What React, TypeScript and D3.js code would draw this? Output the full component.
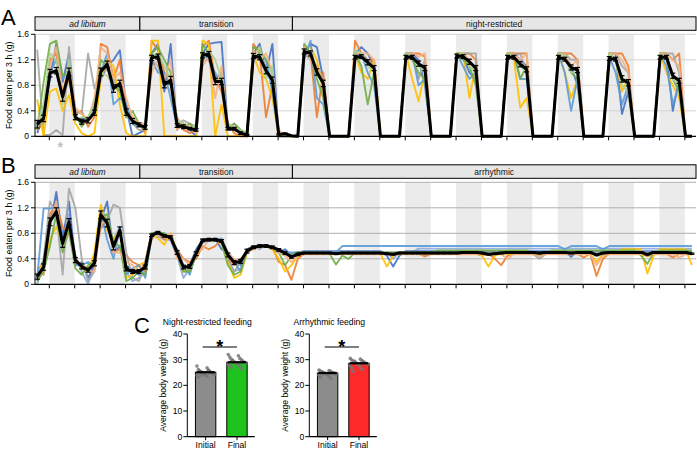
import React from 'react';
import * as d3 from 'd3';

// ---------- DATA ----------
const PHASES_A = ['ad libitum', 'transition', 'night-restricted'];
const PHASES_B = ['ad libitum', 'transition', 'arrhythmic'];
const PHASE_BOUNDS = [-2.25, 14.25, 38.25, 101.75]; // in 3-h bins
const Y_TICKS = [0, 0.4, 0.8, 1.2, 1.6];
const Y_TICK_LABELS = ['0', '0.4', '0.8', '1.2', '1.6'];

const meanA = [
  0.19, 0.28, 0.99, 1.03, 0.62, 1.01, 0.30, 0.23, 0.25, 0.37, 1.01, 1.13, 0.75, 0.83, 0.38, 0.24, 0.18, 0.14,
  1.23, 1.25, 0.81, 0.88, 0.17, 0.15, 0.12, 0.10, 1.27, 1.29, 0.86, 0.86, 0.12, 0.12, 0.05, 0.02, 1.26, 1.24, 1.03, 0.88, 0.03, 0.04,
  0.01, 0, 1.33, 1.30, 1.01, 0.83, 0, 0, 0, 0, 1.24, 1.25, 1.16, 1.07, 0, 0, 0, 0, 1.24, 1.24, 1.14, 1.07, 0, 0, 0, 0,
  1.26, 1.25, 1.17, 1.07, 0, 0, 0, 0, 1.24, 1.24, 1.13, 1.05, 0, 0, 0, 0, 1.24, 1.21, 1.08, 1.04, 0, 0, 0, 0,
  1.22, 1.21, 0.90, 0.84, 0, 0, 0, 0, 1.24, 1.24, 0.95, 0.87, 0, 0,
];
const errA = [
  0.06, 0.05, 0.06, 0.05, 0.07, 0.06, 0.04, 0.04, 0.04, 0.04, 0.06, 0.05, 0.06, 0.05, 0.05, 0.04, 0.03, 0.03,
  0.04, 0.04, 0.05, 0.06, 0.03, 0.03, 0.02, 0.02, 0.04, 0.04, 0.05, 0.05, 0.02, 0.02, 0.02, 0.01, 0.04, 0.04, 0.05, 0.05, 0.01, 0.01,
  0, 0, 0.04, 0.04, 0.05, 0.05, 0, 0, 0, 0, 0.03, 0.03, 0.04, 0.04, 0, 0, 0, 0, 0.03, 0.03, 0.04, 0.04, 0, 0, 0, 0,
  0.03, 0.03, 0.04, 0.04, 0, 0, 0, 0, 0.03, 0.03, 0.04, 0.04, 0, 0, 0, 0, 0.03, 0.03, 0.04, 0.04, 0, 0, 0, 0,
  0.03, 0.03, 0.05, 0.05, 0, 0, 0, 0, 0.03, 0.03, 0.04, 0.04, 0, 0,
];

const aBlue = [
  0.05, 0.35, 0.9, 1.45, 0.85, 1.3, 0.3, 0.2, 0.3, 0.4, 0.9, 1.1, 1.2, 1.35, 0.45, 0.0, 0.05, 0.1,
  1.3, 1.45, 0.7, 1.45, 0.1, 0.2, 0.1, 0.0, 1.3, 1.45, 1.47, 1.48, 0.1, 0.1, 0.05, 0.0, 1.3, 1.45, 1.0, 1.45, 0.0, 0.0,
  0, 0, 1.3, 1.45, 1.4, 0.9, 0, 0, 0, 0, 1.3, 1.4, 1.3, 1.1, 0, 0, 0, 0, 1.3, 1.3, 1.2, 0.8, 0, 0, 0, 0,
  1.3, 1.25, 1.0, 0.9, 0, 0, 0, 0, 1.3, 1.3, 1.2, 1.1, 0, 0, 0, 0, 1.3, 1.3, 1.1, 0.8, 0, 0, 0, 0,
  1.3, 1.3, 0.35, 0.7, 0, 0, 0, 0, 1.3, 1.3, 0.4, 0.9, 0, 0,
];
const aOrange = [
  0.1, 0.2, 1.2, 1.3, 0.6, 0.9, 0.35, 0.4, 0.15, 0.3, 1.45, 1.4, 0.9, 1.2, 0.3, 0.3, 0.2, 0.05,
  1.5, 1.35, 1.0, 0.8, 0.3, 0.1, 0.05, 0.1, 1.4, 1.5, 0.9, 0.7, 0.2, 0.05, 0.0, 0.0, 1.45, 1.3, 0.3, 0.8, 0.0, 0.05,
  0, 0, 1.35, 1.3, 0.3, 1.0, 0, 0, 0, 0, 1.5, 1.3, 1.2, 1.2, 0, 0, 0, 0, 1.3, 1.3, 1.3, 1.25, 0, 0, 0, 0,
  1.3, 1.3, 1.3, 1.2, 0, 0, 0, 0, 1.3, 1.3, 1.3, 1.3, 0, 0, 0, 0, 1.3, 1.3, 1.3, 1.2, 0, 0, 0, 0,
  1.3, 1.3, 1.3, 1.1, 0, 0, 0, 0, 1.3, 1.3, 1.2, 1.3, 0, 0,
];
const aGray = [
  1.36, 0.02, 0.02, 0.1, 0.02, 1.4, 0.4, 0.35, 1.3, 0.75, 1.0, 1.05, 0.9, 0.7, 0.5, 0.2, 0.1, 0.1,
  1.2, 1.1, 0.8, 0.9, 0.2, 0.25, 0.2, 0.15, 1.2, 1.2, 0.9, 1.0, 0.15, 0.2, 0.1, 0.05, 1.2, 1.25, 1.1, 0.9, 0.05, 0.05,
  0, 0, 1.3, 1.2, 1.1, 0.9, 0, 0, 0, 0, 1.3, 1.3, 1.2, 1.1, 0, 0, 0, 0, 1.3, 1.3, 0.9, 1.2, 0, 0, 0, 0,
  1.3, 1.3, 1.3, 1.3, 0, 0, 0, 0, 1.3, 1.25, 1.3, 1.0, 0, 0, 0, 0, 1.3, 1.3, 1.2, 1.2, 0, 0, 0, 0,
  1.3, 1.3, 1.1, 1.0, 0, 0, 0, 0, 1.3, 1.3, 1.3, 1.0, 0, 0,
];
const aYellow = [
  0.58, 0.0, 0.7, 0.75, 0.4, 0.65, 0.2, 0.05, 0.0, 0.05, 0.9, 1.2, 1.1, 0.5, 0.05, 0.0, 0.0, 0.0,
  1.5, 1.5, 0.0, 0.0, 0.0, 0.0, 0.0, 0.0, 1.5, 1.45, 0.0, 0.5, 0.0, 0.0, 0.0, 0.0, 1.3, 1.0, 0.9, 0.6, 0.0, 0.0,
  0, 0, 1.4, 1.4, 1.2, 0.7, 0, 0, 0, 0, 1.3, 1.0, 0.9, 1.2, 0, 0, 0, 0, 1.3, 0.9, 0.55, 1.0, 0, 0, 0, 0,
  1.3, 1.3, 0.6, 1.1, 0, 0, 0, 0, 1.3, 1.2, 0.45, 0.6, 0, 0, 0, 0, 1.3, 1.0, 0.6, 0.9, 0, 0, 0, 0,
  1.3, 1.2, 0.7, 0.9, 0, 0, 0, 0, 1.3, 1.0, 0.8, 0.6, 0, 0,
];
const aLightBlue = [
  0.2, 0.4, 1.0, 1.2, 0.9, 1.05, 0.3, 0.25, 0.3, 0.4, 1.0, 1.3, 0.5, 0.6, 0.5, 0.2, 0.15, 0.15,
  1.2, 1.0, 1.0, 0.6, 0.15, 0.2, 0.15, 0.1, 1.3, 1.2, 1.0, 0.8, 0.15, 0.1, 0.05, 0.0, 1.2, 1.3, 1.2, 0.7, 0.0, 0.0,
  0, 0, 1.2, 1.5, 0.6, 0.5, 0, 0, 0, 0, 1.25, 1.3, 1.0, 0.8, 0, 0, 0, 0, 1.3, 1.3, 0.8, 0.9, 0, 0, 0, 0,
  1.3, 1.1, 0.9, 1.0, 0, 0, 0, 0, 1.2, 1.3, 0.9, 0.9, 0, 0, 0, 0, 1.3, 1.0, 0.4, 0.9, 0, 0, 0, 0,
  1.25, 1.0, 0.5, 0.8, 0, 0, 0, 0, 1.3, 1.1, 0.5, 0.8, 0, 0,
];
const aGreen = [
  0.1, 0.85, 1.45, 1.5, 0.95, 1.0, 0.35, 0.15, 0.3, 0.5, 1.2, 1.1, 0.8, 0.7, 0.3, 0.4, 0.2, 0.1,
  1.3, 1.4, 1.2, 1.0, 0.2, 0.15, 0.2, 0.1, 1.45, 1.3, 0.9, 0.9, 0.1, 0.2, 0.1, 0.0, 1.4, 1.35, 1.2, 1.0, 0.05, 0.0,
  0, 0, 1.45, 1.3, 0.9, 0.6, 0, 0, 0, 0, 1.3, 1.1, 0.5, 1.0, 0, 0, 0, 0, 1.3, 1.2, 1.0, 0.9, 0, 0, 0, 0,
  1.3, 1.2, 1.1, 0.8, 0, 0, 0, 0, 1.3, 1.3, 0.9, 1.1, 0, 0, 0, 0, 1.3, 1.3, 1.0, 0.9, 0, 0, 0, 0,
  1.3, 1.2, 0.9, 0.8, 0, 0, 0, 0, 1.3, 1.3, 0.9, 0.7, 0, 0,
];
const aLightOrange = [
  0.3, 0.3, 1.1, 1.4, 0.7, 1.1, 0.45, 0.35, 0.25, 0.6, 1.4, 1.3, 0.9, 1.0, 0.6, 0.3, 0.2, 0.2,
  1.0, 1.2, 0.9, 1.2, 0.1, 0.2, 0.15, 0.05, 1.1, 1.25, 0.6, 1.1, 0.1, 0.15, 0.05, 0.0, 1.35, 1.2, 1.3, 1.0, 0.1, 0.0,
  0, 0, 1.4, 1.2, 1.1, 0.8, 0, 0, 0, 0, 1.3, 1.3, 1.3, 1.2, 0, 0, 0, 0, 1.3, 1.3, 1.25, 1.3, 0, 0, 0, 0,
  1.3, 1.3, 1.2, 1.0, 0, 0, 0, 0, 1.3, 1.3, 1.2, 1.3, 0, 0, 0, 0, 1.3, 1.3, 1.1, 1.2, 0, 0, 0, 0,
  1.3, 1.3, 1.2, 1.0, 0, 0, 0, 0, 1.3, 1.3, 1.2, 1.1, 0, 0,
];
const aLightGreen = [
  0.15, 0.5, 1.3, 1.2, 0.5, 1.2, 0.25, 0.3, 0.3, 0.5, 1.0, 0.95, 0.8, 0.8, 0.35, 0.25, 0.15, 0.15,
  1.25, 1.3, 1.1, 0.9, 0.25, 0.2, 0.1, 0.2, 1.25, 1.35, 1.2, 0.9, 0.2, 0.15, 0.1, 0.05, 1.2, 1.4, 0.9, 1.1, 0.0, 0.05,
  0, 0, 1.3, 1.35, 1.0, 0.8, 0, 0, 0, 0, 1.35, 1.3, 1.1, 1.0, 0, 0, 0, 0, 1.3, 1.25, 1.1, 1.0, 0, 0, 0, 0,
  1.3, 1.3, 1.1, 1.0, 0, 0, 0, 0, 1.3, 1.25, 1.1, 1.0, 0, 0, 0, 0, 1.3, 1.25, 1.0, 1.0, 0, 0, 0, 0,
  1.3, 1.2, 0.8, 0.7, 0, 0, 0, 0, 1.3, 1.2, 0.9, 0.8, 0, 0,
];

const meanB = [
  0.12, 0.27, 0.98, 1.14, 0.64, 0.98, 0.38, 0.28, 0.22, 0.33, 1.09, 0.96, 0.59, 0.85, 0.24, 0.20, 0.20, 0.27,
  0.77, 0.81, 0.76, 0.74, 0.50, 0.27, 0.28, 0.48, 0.69, 0.70, 0.70, 0.68, 0.46, 0.34, 0.36, 0.52, 0.58, 0.60, 0.60, 0.58, 0.54, 0.49,
  0.43, 0.47, 0.49, 0.49, 0.49, 0.49, 0.49, 0.48, 0.49, 0.49, 0.49, 0.49, 0.49, 0.49, 0.49, 0.48,
  0.47, 0.49, 0.49, 0.49, 0.49, 0.49, 0.49, 0.49, 0.49, 0.49, 0.49, 0.50, 0.50, 0.50, 0.49, 0.47,
  0.48, 0.49, 0.50, 0.50, 0.50, 0.50, 0.50, 0.49, 0.50, 0.50, 0.50, 0.50, 0.49, 0.50, 0.50, 0.50,
  0.46, 0.49, 0.50, 0.50, 0.50, 0.50, 0.50, 0.50, 0.47, 0.50, 0.50, 0.50, 0.50, 0.50, 0.50, 0.48,
];
const errB = [
  0.04, 0.05, 0.06, 0.06, 0.06, 0.05, 0.04, 0.04, 0.03, 0.04, 0.06, 0.06, 0.05, 0.05, 0.03, 0.03, 0.03, 0.03,
  0.02, 0.02, 0.02, 0.02, 0.03, 0.03, 0.03, 0.03, 0.02, 0.02, 0.02, 0.02, 0.03, 0.03, 0.03, 0.03, 0.02, 0.02, 0.02, 0.02, 0.02, 0.02,
  0.02, 0.02, 0.01, 0.01, 0.01, 0.01, 0.01, 0.01, 0.01, 0.01, 0.01, 0.01, 0.01, 0.01, 0.01, 0.01,
  0.01, 0.01, 0.01, 0.01, 0.01, 0.01, 0.01, 0.01, 0.01, 0.01, 0.01, 0.01, 0.01, 0.01, 0.01, 0.01,
  0.01, 0.01, 0.01, 0.01, 0.01, 0.01, 0.01, 0.01, 0.01, 0.01, 0.01, 0.01, 0.01, 0.01, 0.01, 0.01,
  0.01, 0.01, 0.01, 0.01, 0.01, 0.01, 0.01, 0.01, 0.01, 0.01, 0.01, 0.01, 0.01, 0.01, 0.01, 0.01,
];

const bBlue = [
  0.05, 0.3, 0.9, 1.45, 0.7, 1.3, 0.3, 0.35, 0.1, 0.3, 1.0, 1.3, 0.5, 0.6, 0.3, 0.2, 0.15, 0.35,
  0.8, 0.82, 0.75, 0.7, 0.45, 0.25, 0.3, 0.55, 0.7, 0.7, 0.72, 0.55, 0.5, 0.35, 0.3, 0.55, 0.58, 0.6, 0.6, 0.55, 0.5, 0.55,
  0.45, 0.5, 0.52, 0.52, 0.52, 0.52, 0.52, 0.52, 0.52, 0.52, 0.52, 0.52, 0.52, 0.52, 0.52, 0.45,
  0.28, 0.45, 0.52, 0.52, 0.52, 0.52, 0.52, 0.52, 0.52, 0.52, 0.52, 0.52, 0.52, 0.52, 0.52, 0.52,
  0.52, 0.52, 0.52, 0.52, 0.52, 0.52, 0.52, 0.52, 0.52, 0.52, 0.52, 0.52, 0.43, 0.52, 0.52, 0.52,
  0.52, 0.52, 0.52, 0.52, 0.52, 0.52, 0.52, 0.52, 0.52, 0.52, 0.52, 0.52, 0.52, 0.52, 0.52, 0.52,
];
const bOrange = [
  0.2, 0.15, 1.1, 1.25, 0.9, 0.8, 0.35, 0.3, 0.25, 0.4, 0.9, 1.0, 0.5, 0.55, 0.45, 0.35, 0.3, 0.2,
  0.75, 0.8, 0.7, 0.72, 0.55, 0.4, 0.35, 0.4, 0.6, 0.55, 0.6, 0.7, 0.4, 0.3, 0.4, 0.5, 0.55, 0.6, 0.6, 0.58, 0.35, 0.3,
  0.07, 0.4, 0.48, 0.48, 0.48, 0.48, 0.48, 0.48, 0.48, 0.48, 0.48, 0.48, 0.48, 0.48, 0.48, 0.48,
  0.48, 0.48, 0.48, 0.48, 0.48, 0.44, 0.48, 0.48, 0.48, 0.48, 0.48, 0.48, 0.48, 0.48, 0.45, 0.48,
  0.4, 0.3, 0.45, 0.48, 0.48, 0.48, 0.48, 0.48, 0.48, 0.48, 0.48, 0.48, 0.48, 0.48, 0.42, 0.48,
  0.13, 0.4, 0.48, 0.48, 0.48, 0.48, 0.48, 0.48, 0.44, 0.48, 0.48, 0.48, 0.42, 0.48, 0.48, 0.48,
];
const bGray = [
  0.15, 0.4, 1.3, 1.1, 0.15, 1.5, 1.2, 0.4, 0.05, 0.2, 1.2, 1.0, 1.25, 1.2, 0.5, 0.1, 0.05, 0.3,
  0.78, 0.8, 0.78, 0.75, 0.5, 0.2, 0.2, 0.5, 0.7, 0.7, 0.7, 0.68, 0.4, 0.2, 0.35, 0.55, 0.6, 0.6, 0.6, 0.6, 0.55, 0.5,
  0.48, 0.5, 0.5, 0.5, 0.5, 0.5, 0.5, 0.5, 0.5, 0.5, 0.5, 0.5, 0.5, 0.5, 0.5, 0.5,
  0.5, 0.5, 0.5, 0.5, 0.5, 0.5, 0.5, 0.5, 0.5, 0.5, 0.5, 0.5, 0.5, 0.5, 0.5, 0.5,
  0.5, 0.5, 0.5, 0.5, 0.5, 0.5, 0.47, 0.4, 0.47, 0.5, 0.5, 0.5, 0.5, 0.5, 0.5, 0.5,
  0.5, 0.5, 0.5, 0.5, 0.5, 0.5, 0.5, 0.5, 0.5, 0.5, 0.5, 0.5, 0.5, 0.5, 0.5, 0.5,
];
const bYellow = [
  0.25, 0.3, 0.7, 0.9, 0.65, 0.9, 0.4, 0.25, 0.2, 0.5, 1.25, 0.85, 0.7, 0.85, 0.1, 0.15, 0.3, 0.35,
  0.8, 0.72, 0.62, 0.8, 0.5, 0.2, 0.25, 0.45, 0.7, 0.7, 0.7, 0.65, 0.35, 0.1, 0.15, 0.5, 0.6, 0.58, 0.6, 0.55, 0.4, 0.2,
  0.3, 0.45, 0.48, 0.48, 0.48, 0.48, 0.48, 0.48, 0.48, 0.48, 0.48, 0.48, 0.48, 0.48, 0.48, 0.28,
  0.45, 0.48, 0.48, 0.48, 0.48, 0.48, 0.48, 0.48, 0.48, 0.48, 0.48, 0.48, 0.48, 0.48, 0.45, 0.28,
  0.45, 0.48, 0.48, 0.48, 0.48, 0.48, 0.48, 0.48, 0.48, 0.48, 0.48, 0.48, 0.48, 0.48, 0.48, 0.48,
  0.35, 0.48, 0.48, 0.48, 0.55, 0.55, 0.55, 0.55, 0.17, 0.45, 0.55, 0.55, 0.55, 0.55, 0.55, 0.3,
];
const bLightBlue = [
  0.1, 1.19, 1.19, 1.2, 0.7, 1.0, 0.3, 0.3, 0.35, 0.25, 1.15, 0.7, 0.4, 0.9, 0.15, 0.25, 0.3, 0.1,
  0.75, 0.8, 0.8, 0.7, 0.55, 0.3, 0.15, 0.5, 0.65, 0.7, 0.7, 0.72, 0.5, 0.35, 0.2, 0.55, 0.58, 0.62, 0.6, 0.6, 0.55, 0.5,
  0.5, 0.5, 0.5, 0.5, 0.5, 0.5, 0.5, 0.5, 0.6, 0.6, 0.6, 0.6, 0.6, 0.6, 0.6, 0.6,
  0.6, 0.6, 0.6, 0.6, 0.6, 0.6, 0.6, 0.6, 0.6, 0.6, 0.6, 0.6, 0.6, 0.6, 0.6, 0.6,
  0.6, 0.6, 0.6, 0.6, 0.6, 0.6, 0.6, 0.6, 0.6, 0.6, 0.6, 0.55, 0.6, 0.6, 0.6, 0.6,
  0.6, 0.55, 0.6, 0.6, 0.6, 0.6, 0.6, 0.6, 0.6, 0.6, 0.6, 0.6, 0.6, 0.6, 0.6, 0.6,
];
const bGreen = [
  0.05, 0.2, 0.6, 1.1, 0.5, 0.85, 0.25, 0.15, 0.3, 0.35, 1.05, 1.1, 0.65, 0.6, 0.05, 0.1, 0.2, 0.15,
  0.8, 0.8, 0.8, 0.75, 0.5, 0.2, 0.2, 0.45, 0.7, 0.72, 0.7, 0.65, 0.3, 0.15, 0.2, 0.5, 0.6, 0.6, 0.6, 0.58, 0.5, 0.3,
  0.45, 0.5, 0.5, 0.5, 0.5, 0.5, 0.48, 0.31, 0.45, 0.4, 0.5, 0.5, 0.5, 0.5, 0.5, 0.5,
  0.5, 0.5, 0.5, 0.5, 0.5, 0.5, 0.5, 0.53, 0.53, 0.53, 0.53, 0.53, 0.53, 0.53, 0.53, 0.53,
  0.53, 0.53, 0.53, 0.53, 0.53, 0.53, 0.5, 0.45, 0.5, 0.53, 0.53, 0.53, 0.53, 0.53, 0.53, 0.53,
  0.53, 0.53, 0.53, 0.53, 0.53, 0.53, 0.53, 0.45, 0.32, 0.5, 0.53, 0.53, 0.53, 0.53, 0.53, 0.53,
];
const bLightOrange = [
  0.1, 0.25, 0.95, 1.3, 0.6, 0.95, 0.4, 0.3, 0.2, 0.2, 0.95, 1.0, 0.5, 0.5, 0.35, 0.3, 0.2, 0.35,
  0.7, 0.8, 0.75, 0.8, 0.4, 0.4, 0.3, 0.5, 0.55, 0.7, 0.7, 0.7, 0.5, 0.4, 0.35, 0.5, 0.55, 0.6, 0.6, 0.6, 0.5, 0.45,
  0.35, 0.45, 0.47, 0.47, 0.47, 0.47, 0.47, 0.47, 0.47, 0.47, 0.47, 0.47, 0.47, 0.47, 0.47, 0.47,
  0.47, 0.47, 0.47, 0.47, 0.47, 0.47, 0.47, 0.47, 0.47, 0.47, 0.47, 0.47, 0.47, 0.47, 0.47, 0.47,
  0.47, 0.47, 0.4, 0.47, 0.47, 0.47, 0.47, 0.44, 0.47, 0.47, 0.47, 0.47, 0.47, 0.47, 0.47, 0.47,
  0.3, 0.45, 0.47, 0.47, 0.47, 0.47, 0.47, 0.47, 0.47, 0.47, 0.47, 0.47, 0.47, 0.42, 0.47, 0.47,
];
const bLightBlue2 = [
  0.0, 0.35, 1.0, 1.35, 0.8, 1.1, 0.45, 0.2, 0.0, 0.3, 0.9, 0.9, 0.7, 0.9, 0.2, 0.05, 0.1, 0.2,
  0.8, 0.75, 0.7, 0.7, 0.45, 0.1, 0.25, 0.5, 0.7, 0.68, 0.7, 0.7, 0.4, 0.2, 0.25, 0.55, 0.6, 0.55, 0.62, 0.58, 0.5, 0.45,
  0.48, 0.5, 0.5, 0.5, 0.5, 0.5, 0.5, 0.5, 0.5, 0.5, 0.5, 0.5, 0.5, 0.5, 0.5, 0.5,
  0.4, 0.5, 0.5, 0.5, 0.56, 0.56, 0.56, 0.56, 0.56, 0.56, 0.56, 0.56, 0.56, 0.56, 0.56, 0.56,
  0.56, 0.56, 0.56, 0.56, 0.56, 0.56, 0.56, 0.56, 0.56, 0.56, 0.56, 0.56, 0.56, 0.56, 0.56, 0.56,
  0.56, 0.56, 0.56, 0.56, 0.56, 0.56, 0.56, 0.56, 0.56, 0.56, 0.56, 0.56, 0.56, 0.56, 0.56, 0.56,
];

const SERIES_COLORS = ['#4472c4', '#ed7d31', '#a5a5a5', '#ffc000', '#5b9bd5', '#70ad47', '#f4b183', '#a9d18e'];
const seriesA = [aBlue, aOrange, aGray, aYellow, aLightBlue, aGreen, aLightOrange, aLightGreen];
const seriesB = [bLightBlue2, bBlue, bOrange, bGray, bYellow, bLightBlue, bGreen, bLightOrange];
const seriesBColors = ['#8faadc', '#4472c4', '#ed7d31', '#a5a5a5', '#ffc000', '#5b9bd5', '#70ad47', '#f4b183'];

// Panel C
const BAR_CATS = ['Initial', 'Final'];
const nrMeans = [25.1, 29.0];
const nrSem = [0.3, 0.3];
const arMeans = [24.8, 28.6];
const arSem = [0.25, 0.25];
const nrInitial = [27.5, 26.8, 26.2, 25.9, 25.6, 25.4, 25.3, 25.0, 24.8, 24.6, 24.5, 24.2, 24.0, 23.8, 23.5, 23.2, 26.0, 25.5, 24.9, 23.9];
const nrFinal = [32.0, 31.5, 31.0, 30.5, 30.2, 30.0, 29.8, 29.5, 29.2, 29.0, 28.8, 28.6, 28.4, 28.2, 28.0, 27.8, 27.4, 26.9, 26.4, 29.6];
const arInitial = [26.0, 25.8, 25.6, 25.5, 25.3, 25.1, 25.0, 24.9, 24.8, 24.7, 24.5, 24.3, 24.1, 23.9, 23.5, 23.2, 22.8, 25.2, 24.6, 24.4];
const arFinal = [30.5, 30.2, 29.9, 29.7, 29.5, 29.3, 29.1, 28.9, 28.7, 28.5, 28.3, 28.1, 27.9, 27.6, 27.2, 26.8, 26.2, 25.5, 28.8, 29.4];
const C_TICKS = [0, 10, 20, 30, 40];

// ---------- LAYOUT ----------
const FONT = 'Liberation Sans, Arial, Helvetica, sans-serif';
const X0 = 35;
const X1 = 696;
const binX = d3.scaleLinear().domain([PHASE_BOUNDS[0], PHASE_BOUNDS[3]]).range([X0, X1]);
const pointBin = (i: number) => i - 2 + 0.1;
const tickBins = d3.range(0, 101, 4);
const darkStarts = d3.range(0, 100, 8);

function TimePanel(props: {
  top: number; letter: string; phases: string[]; mean: number[]; err: number[];
  series: number[][]; colors: string[]; gridColor: string; star?: boolean;
}) {
  const { top, letter, phases, mean, err, series, colors, gridColor, star } = props;
  const bottom = top + 102;
  const y = d3.scaleLinear().domain([0, 1.6]).range([bottom, top]);
  const line = d3.line<number>().x((_, i) => binX(pointBin(i))).y((d) => y(d));
  const hTop = top - 17.5;
  const hH = 13.5;
  return (
    <g>
      <text x={1} y={top - 9} fontFamily={FONT} fontSize={22}>{letter}</text>
      {phases.map((p, k) => (
        <g key={p}>
          <rect x={binX(PHASE_BOUNDS[k])} y={hTop} width={binX(PHASE_BOUNDS[k + 1]) - binX(PHASE_BOUNDS[k])} height={hH}
            fill="#e6e6e6" stroke="#000" strokeWidth={1} />
          <text x={(binX(PHASE_BOUNDS[k]) + binX(PHASE_BOUNDS[k + 1])) / 2} y={hTop + hH / 2 + 3} textAnchor="middle"
            fontFamily={FONT} fontSize={8.5} fontStyle={k === 0 ? 'italic' : 'normal'} fill="#111">{p}</text>
        </g>
      ))}
      {darkStarts.map((s) => (
        <rect key={s} x={binX(s)} y={top} width={binX(s + 4) - binX(s)} height={bottom - top} fill="#ebebeb" />
      ))}
      {Y_TICKS.filter((t) => t > 0).map((t) => (
        <line key={t} x1={X0} x2={X1} y1={y(t)} y2={y(t)} stroke={gridColor} strokeWidth={1} />
      ))}
      {series.map((s, k) => (
        <path key={k} d={line(s) || ''} fill="none" stroke={colors[k]} strokeWidth={1.9} strokeOpacity={0.9} strokeLinejoin="round" />
      ))}
      <path d={line(mean) || ''} fill="none" stroke="#000" strokeWidth={3} strokeLinejoin="round" />
      {mean.map((m, i) => err[i] > 0 ? (
        <g key={i} stroke="#000" strokeWidth={1.2}>
          <line x1={binX(pointBin(i))} x2={binX(pointBin(i))} y1={y(m - err[i])} y2={y(m + err[i])} />
          <line x1={binX(pointBin(i)) - 2.5} x2={binX(pointBin(i)) + 2.5} y1={y(m - err[i])} y2={y(m - err[i])} />
          <line x1={binX(pointBin(i)) - 2.5} x2={binX(pointBin(i)) + 2.5} y1={y(m + err[i])} y2={y(m + err[i])} />
        </g>
      ) : null)}
      <line x1={X0} x2={X0} y1={top} y2={bottom} stroke="#000" strokeWidth={1} />
      <line x1={X0} x2={X1} y1={bottom} y2={bottom} stroke="#000" strokeWidth={1.2} />
      {tickBins.map((b) => (
        <line key={b} x1={binX(b)} x2={binX(b)} y1={bottom} y2={bottom + 4} stroke="#000" strokeWidth={1} />
      ))}
      {Y_TICKS.map((t, k) => (
        <g key={t}>
          <line x1={X0 - 4} x2={X0} y1={y(t)} y2={y(t)} stroke="#000" strokeWidth={1} />
          <text x={X0 - 6} y={y(t) + 3} textAnchor="end" fontFamily={FONT} fontSize={8.5}>{Y_TICK_LABELS[k]}</text>
        </g>
      ))}
      <text transform={`translate(12,${(top + bottom) / 2}) rotate(-90)`} textAnchor="middle" fontFamily={FONT} fontSize={8.8}>
        Food eaten per 3 h (g)
      </text>
      {star ? (
        <text x={binX(pointBin(3)) + 4} y={bottom + 15.5} textAnchor="middle" fontFamily={FONT} fontSize={14} fontWeight="bold" fill="#c0c0c0">*</text>
      ) : null}
    </g>
  );
}

function BarPanel(props: {
  axisX: number; title: string; means: number[]; sem: number[]; dots: number[][]; fill: string;
}) {
  const { axisX, title, means, sem, dots, fill } = props;
  const y = d3.scaleLinear().domain([0, 40]).range([436.7, 334]);
  const x = d3.scaleBand().domain(BAR_CATS).range([axisX + 5, axisX + 63]).paddingInner(0.35).paddingOuter(0.1);
  const bw = x.bandwidth();
  const fills = ['#8c8c8c', fill];
  const c0 = (x('Initial') as number) + bw / 2;
  const c1 = (x('Final') as number) + bw / 2;
  return (
    <g fontFamily={FONT}>
      <text x={axisX + 20} y={325} textAnchor="middle" fontSize={8.6}>{title}</text>
      <text transform={`translate(${axisX - 21},${y(20)}) rotate(-90)`} textAnchor="middle" fontSize={8.6}>Average body weight (g)</text>
      {BAR_CATS.map((c, k) => (
        <g key={c}>
          <rect x={x(c)} y={y(means[k])} width={bw} height={y(0) - y(means[k])} fill={fills[k]} stroke="#000" strokeWidth={1} />
          {dots[k].map((v, i) => (
            <circle key={i} cx={(x(c) as number) + bw / 2 + (((i * 7) % 13) - 6) * 1.45} cy={y(v)} r={1.8}
              fill="#777" fillOpacity={0.85} />
          ))}
          <line x1={(x(c) as number) + 1} x2={(x(c) as number) + bw - 1} y1={y(means[k])} y2={y(means[k])} stroke="#000" strokeWidth={2.2} />
          <line x1={(x(c) as number) + bw / 2} x2={(x(c) as number) + bw / 2} y1={y(means[k] - sem[k])} y2={y(means[k] + sem[k])} stroke="#000" strokeWidth={1.5} />
          <line x1={(x(c) as number) + bw / 2} x2={(x(c) as number) + bw / 2} y1={y(0)} y2={y(0) + 3.5} stroke="#000" strokeWidth={1} />
          <text x={(x(c) as number) + bw / 2} y={448} textAnchor="middle" fontSize={8.6}>{c}</text>
        </g>
      ))}
      <line x1={axisX} x2={axisX} y1={y(40)} y2={y(0)} stroke="#000" strokeWidth={1} />
      <line x1={axisX} x2={axisX + 67.5} y1={y(0)} y2={y(0)} stroke="#000" strokeWidth={1.2} />
      {C_TICKS.map((t) => (
        <g key={t}>
          <line x1={axisX - 4} x2={axisX} y1={y(t)} y2={y(t)} stroke="#000" strokeWidth={1} />
          <text x={axisX - 5} y={y(t) + 3} textAnchor="end" fontSize={8.6}>{t}</text>
        </g>
      ))}
      <line x1={c0 - 3} x2={c1} y1={347} y2={347} stroke="#000" strokeWidth={1.2} />
      <text x={(c0 - 3 + c1) / 2} y={353} textAnchor="middle" fontSize={18} fontWeight="bold">*</text>
    </g>
  );
}

export default function App() {
  return (
    <svg width={697} height={459} viewBox="0 0 697 459" style={{ position: 'absolute', left: 0, top: 0, background: '#fff' }}>
      <rect x={0} y={0} width={697} height={459} fill="#fff" />
      <TimePanel top={34.3} letter="A" phases={PHASES_A} mean={meanA} err={errA} series={seriesA} colors={SERIES_COLORS}
        gridColor="#d4d4d4" star />
      <TimePanel top={182.3} letter="B" phases={PHASES_B} mean={meanB} err={errB} series={seriesB} colors={seriesBColors}
        gridColor="#b0b0b0" />
      <text x={134} y={333} fontFamily={FONT} fontSize={22}>C</text>
      <BarPanel axisX={187.3} title="Night-restricted feeding" means={nrMeans} sem={nrSem} dots={[nrInitial, nrFinal]} fill="#1ec31e" />
      <BarPanel axisX={309.3} title="Arrhythmic feeding" means={arMeans} sem={arSem} dots={[arInitial, arFinal]} fill="#ff2a2a" />
    </svg>
  );
}
